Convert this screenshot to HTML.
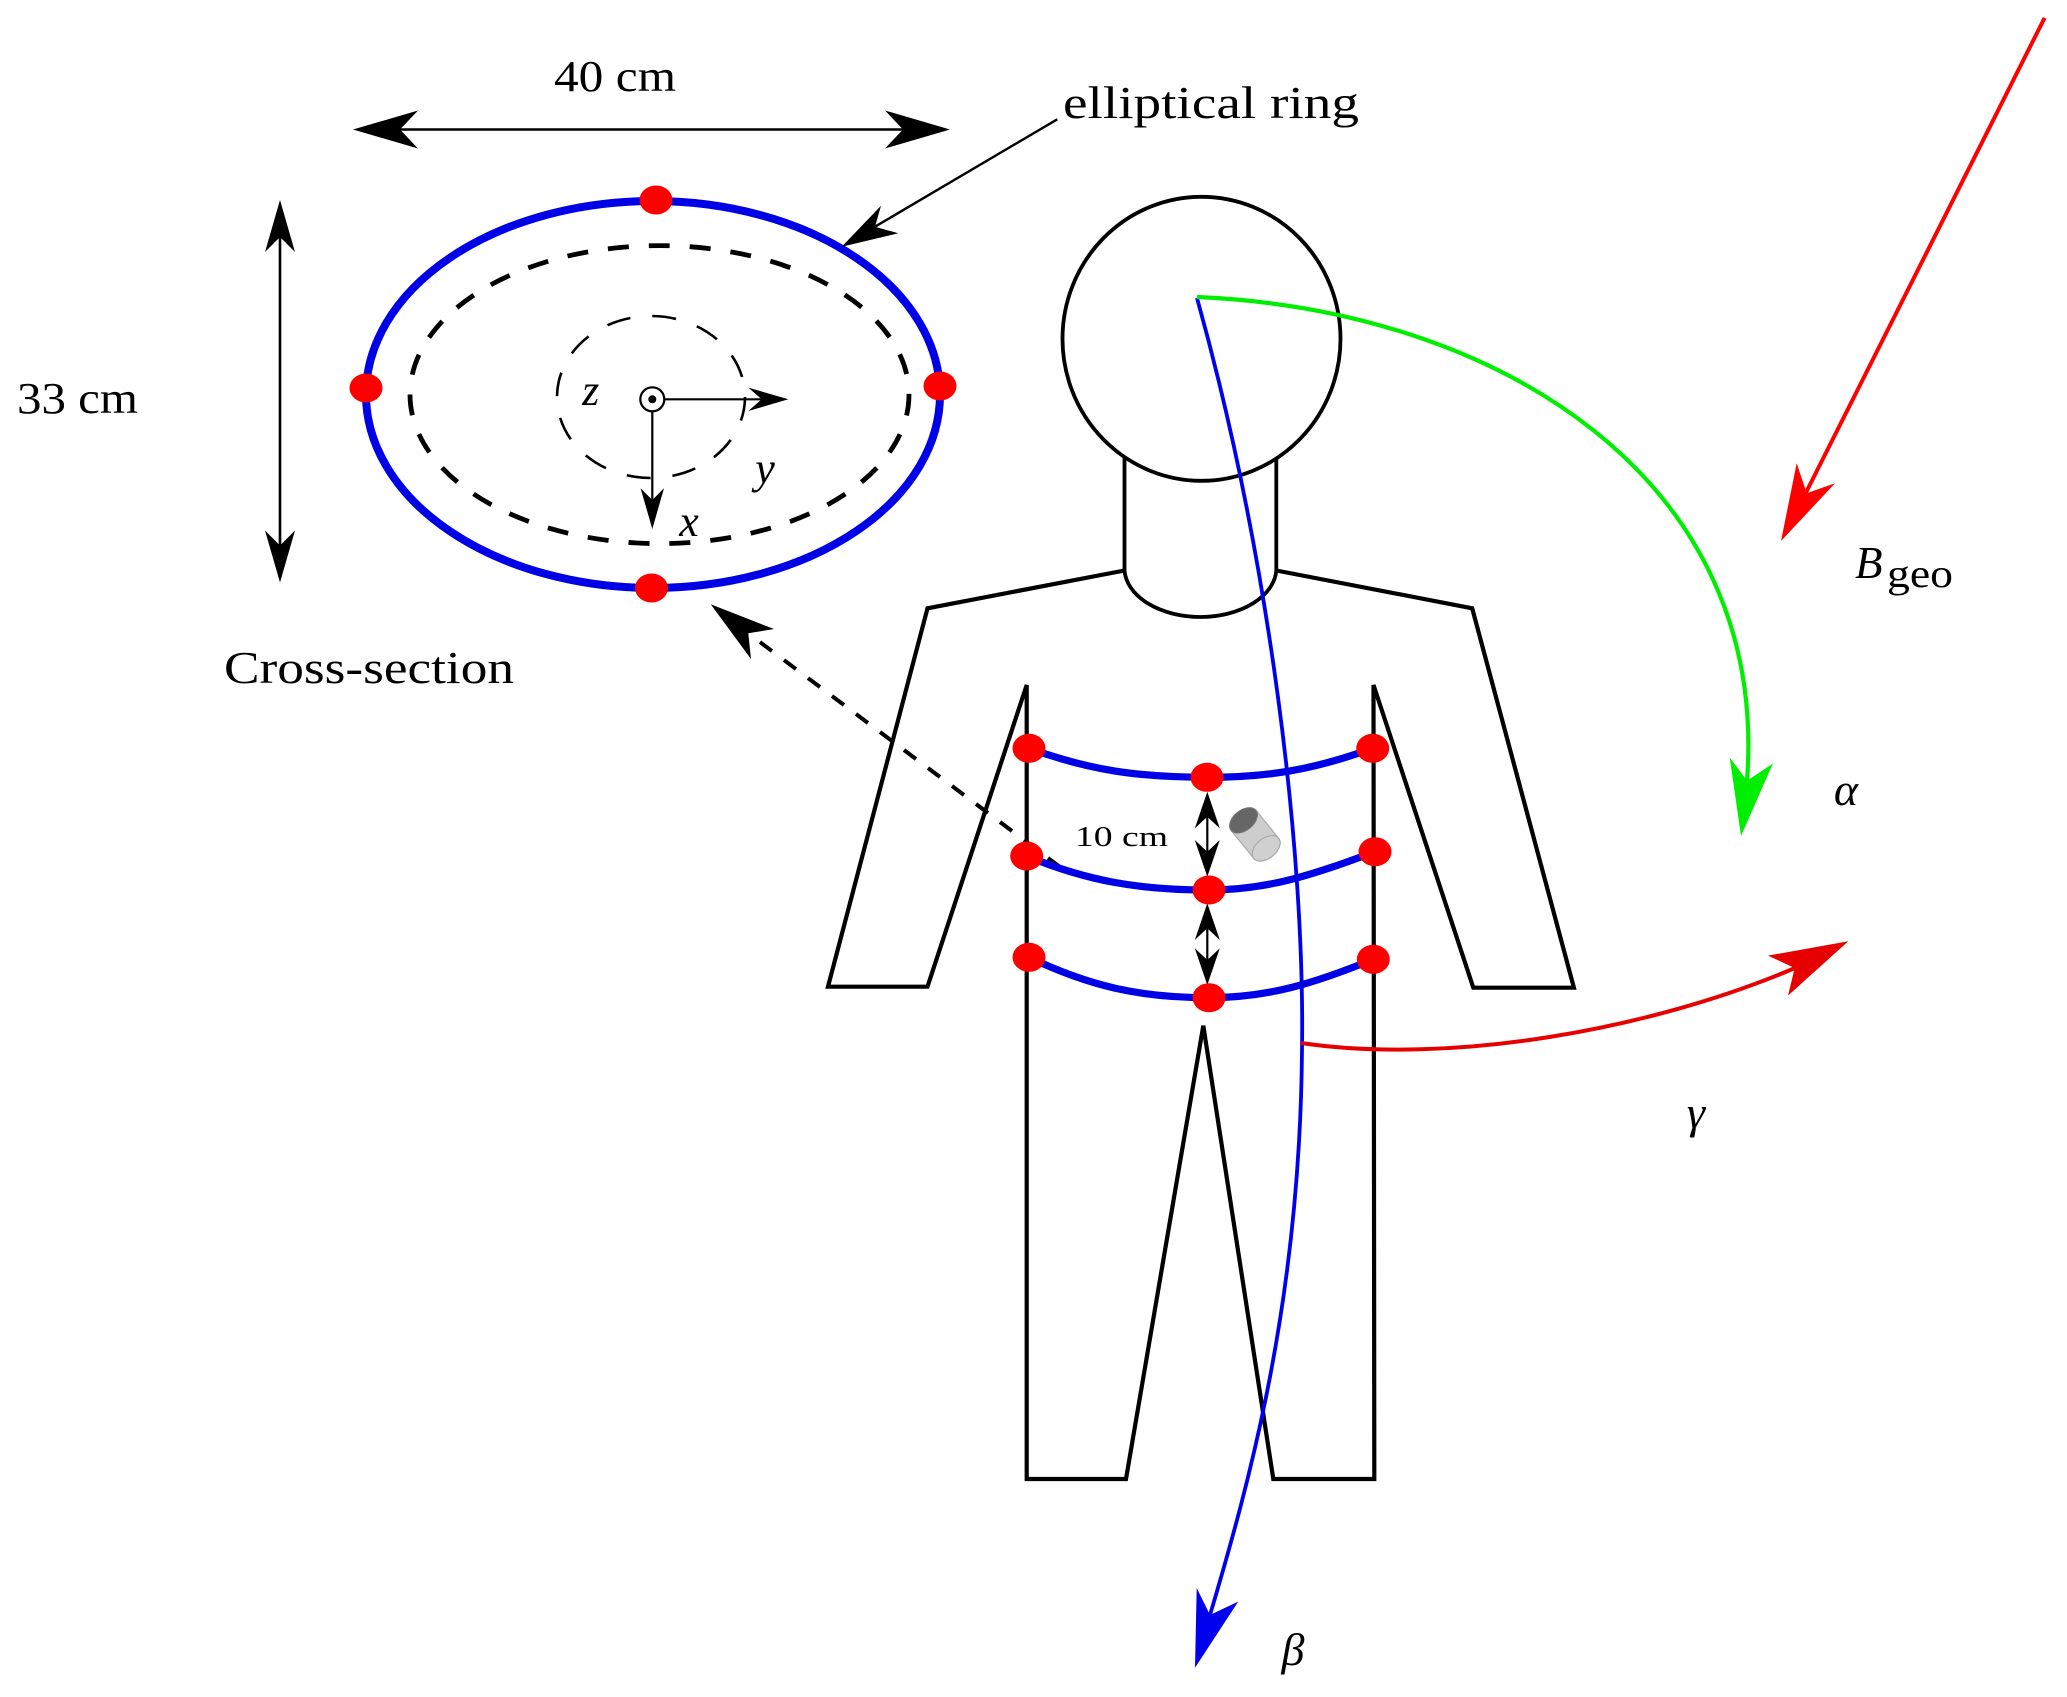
<!DOCTYPE html>
<html><head><meta charset="utf-8"><style>
html,body{margin:0;padding:0;background:#fff;}
svg{display:block;}
text{font-family:"Liberation Serif","DejaVu Serif",serif;fill:#000;}
.it{font-style:italic;}
</style></head><body>
<svg width="2067" height="1697" viewBox="0 0 2067 1697" xmlns="http://www.w3.org/2000/svg">
<rect width="2067" height="1697" fill="#fff"/>

<!-- Cross-section -->
<ellipse cx="653" cy="394.5" rx="287" ry="193.5" fill="none" stroke="#0000e6" stroke-width="8"/>
<ellipse cx="659.5" cy="394.6" rx="249.5" ry="149" fill="none" stroke="#000" stroke-width="4.8" stroke-dasharray="21 20"/>
<ellipse cx="651" cy="397" rx="94" ry="81" fill="none" stroke="#000" stroke-width="2.6" stroke-dasharray="24 22"/>
<ellipse cx="656" cy="200" rx="16.5" ry="14.5" fill="#ff0000"/>
<ellipse cx="651.5" cy="588" rx="16.5" ry="14.5" fill="#ff0000"/>
<ellipse cx="366" cy="388" rx="16.5" ry="14.5" fill="#ff0000"/>
<ellipse cx="940" cy="386" rx="16.5" ry="14.5" fill="#ff0000"/>

<!-- origin & axes -->
<circle cx="652.3" cy="399.3" r="12" fill="#fff" stroke="#000" stroke-width="2.2"/>
<circle cx="652.3" cy="399.3" r="4" fill="#000"/>
<line x1="664.5" y1="399.3" x2="762" y2="399.3" stroke="#000" stroke-width="2.2"/>
<polygon points="788.3,399.3 748.3,387.6 761.7,399.3 748.3,411" fill="#000"/>
<line x1="652.3" y1="411.5" x2="652.3" y2="502" stroke="#000" stroke-width="2.2"/>
<polygon points="652.3,529 640.6,488.3 652.3,500 664,488.3" fill="#000"/>
<text class="it" x="590.7" y="405" font-size="44" text-anchor="middle">z</text>
<text class="it" x="765" y="483" font-size="44" text-anchor="middle">y</text>
<text class="it" x="689" y="536" font-size="44" text-anchor="middle">x</text>

<!-- 40 cm arrow -->
<line x1="400" y1="129.5" x2="903" y2="129.5" stroke="#000" stroke-width="2.6"/>
<polygon points="353,129.5 418,110.5 400,129.5 418,148.5" fill="#000"/>
<polygon points="950,129.5 885,110.5 903,129.5 885,148.5" fill="#000"/>
<text x="554" y="91" font-size="44" textLength="122" lengthAdjust="spacingAndGlyphs">40 cm</text>

<!-- 33 cm arrow -->
<line x1="280" y1="237" x2="280" y2="545.5" stroke="#000" stroke-width="2.6"/>
<polygon points="280,200 265,252 280,237 295,252" fill="#000"/>
<polygon points="280,582.5 265,530.5 280,545.5 295,530.5" fill="#000"/>
<text x="17" y="413" font-size="44" textLength="121" lengthAdjust="spacingAndGlyphs">33 cm</text>

<text x="224" y="683" font-size="46" textLength="290" lengthAdjust="spacingAndGlyphs">Cross-section</text>

<!-- elliptical ring leader -->
<line x1="1057.3" y1="119.3" x2="875" y2="226.7" stroke="#000" stroke-width="2.4"/>
<polygon points="841.7,246.7 881,205.7 875,226.7 898.3,233.3" fill="#000"/>
<text x="1063" y="118" font-size="46" textLength="296" lengthAdjust="spacingAndGlyphs">elliptical ring</text>

<!-- Body -->
<ellipse cx="1201.5" cy="338.8" rx="139" ry="142" fill="none" stroke="#000" stroke-width="3.8"/>
<line x1="1124.5" y1="458" x2="1124.5" y2="570.5" stroke="#000" stroke-width="3.8"/>
<line x1="1276.3" y1="458" x2="1276.3" y2="570.5" stroke="#000" stroke-width="3.8"/>
<path d="M1124.5,570.5 A76,49 0 0 0 1276.3,570.5" fill="none" stroke="#000" stroke-width="3.8"/>
<polyline points="1124.5,570.5 927.5,608.3 828,986.7 927.5,986.7 1026.7,685 1026.7,1479 1126,1479 1203.3,1025.7 1273.3,1479 1374.3,1479 1373.5,685 1473.3,987.7 1573.9,987.7 1472.2,608.3 1276.3,570.5" fill="none" stroke="#000" stroke-width="4.2" stroke-linejoin="miter"/>

<!-- dashed arrow -->
<line x1="1060" y1="867" x2="748.3" y2="633.3" stroke="#000" stroke-width="4" stroke-dasharray="15 15"/>
<polygon points="710.7,604.3 774,629 748.3,633.3 751,659" fill="#000"/>

<!-- beta blue curve -->
<path d="M1197,298 C1270,560 1305,850 1302,1050 C1300,1300 1250,1480 1210,1615" fill="none" stroke="#0000ee" stroke-width="3.8"/>
<polygon points="1195,1667.8 1196.7,1588 1210,1615 1238.3,1601.5" fill="#0000ee"/>
<text class="it" x="1293" y="1665" font-size="46" text-anchor="middle">β</text>

<!-- rings -->
<g fill="none" stroke="#0000e6" stroke-width="7.2">
<path d="M1029,748.3 C1089,770 1137,777.3 1207,777.3 C1267,777.3 1313,770 1372.7,748.3"/>
<path d="M1026.7,856 C1087,881 1139,890 1209,890 C1269,890 1315,874 1375,851.7"/>
<path d="M1029,957.3 C1089,986 1139,997.7 1209,997.7 C1269,997.7 1315,983 1373.3,959.3"/>
</g>

<!-- 10 cm double arrows -->
<line x1="1207.3" y1="815" x2="1207.3" y2="853" stroke="#000" stroke-width="2.2"/>
<polygon points="1207.3,791.7 1194.8,828.4 1207.3,816.7 1219.8,828.4" fill="#000"/>
<polygon points="1207.3,876.7 1194.8,840 1207.3,851.7 1219.8,840" fill="#000"/>
<line x1="1207.3" y1="927" x2="1207.3" y2="962" stroke="#000" stroke-width="2.2"/>
<polygon points="1207.3,903.3 1194.8,940 1207.3,928.3 1219.8,940" fill="#000"/>
<polygon points="1207.3,985 1194.8,948.3 1207.3,960 1219.8,948.3" fill="#000"/>
<text x="1075" y="846" font-size="28" textLength="93" lengthAdjust="spacingAndGlyphs">10 cm</text>

<!-- cylinder -->
<g transform="translate(1243.5,820.3) rotate(51)">
<path d="M0,-16 L36,-16 A10,16 0 0 1 36,16 L0,16 Z" fill="#cdcdcd" stroke="#aaa" stroke-width="1.2"/>
<ellipse cx="36" cy="0" rx="10" ry="16" fill="#d0d0d0" stroke="#aaa" stroke-width="1.2"/>
<ellipse cx="0" cy="0" rx="10" ry="16" fill="#666" stroke="#777" stroke-width="1"/>
</g>

<!-- dots on rings -->
<g fill="#ff0000">
<ellipse cx="1029" cy="748.3" rx="16.5" ry="14.5"/>
<ellipse cx="1207" cy="777.3" rx="16.5" ry="14.5"/>
<ellipse cx="1372.7" cy="748.3" rx="16.5" ry="14.5"/>
<ellipse cx="1026.7" cy="856" rx="16.5" ry="14.5"/>
<ellipse cx="1209" cy="890" rx="16.5" ry="14.5"/>
<ellipse cx="1375" cy="851.7" rx="16.5" ry="14.5"/>
<ellipse cx="1029" cy="957.3" rx="16.5" ry="14.5"/>
<ellipse cx="1209" cy="997.7" rx="16.5" ry="14.5"/>
<ellipse cx="1373.3" cy="959.3" rx="16.5" ry="14.5"/>
</g>

<!-- green alpha curve -->
<path d="M1197,297 C1500,310 1770,480 1747,781" fill="none" stroke="#00ee00" stroke-width="4.2"/>
<polygon points="1741,836 1729.7,757.5 1747,780.7 1772.9,763.5" fill="#00ee00"/>
<text class="it" x="1846" y="805" font-size="46" text-anchor="middle">α</text>

<!-- red B_geo arrow -->
<line x1="2044.6" y1="17.9" x2="1805.5" y2="493.5" stroke="#ff0000" stroke-width="4"/>
<polygon points="1781,541 1796.7,463.3 1806.7,493.3 1835,483.3" fill="#ff0000"/>
<text class="it" x="1855" y="578" font-size="45">B</text>
<text x="1887" y="587" font-size="40" textLength="66" lengthAdjust="spacingAndGlyphs">geo</text>

<!-- red gamma curve -->
<path d="M1301,1043 C1450,1065 1650,1030 1795,968" fill="none" stroke="#e60000" stroke-width="4"/>
<polygon points="1848.3,941.3 1768,955.6 1794.7,968 1788,995.6" fill="#e60000"/>
<text class="it" x="1696" y="1128" font-size="46" text-anchor="middle">γ</text>

</svg>
</body></html>
